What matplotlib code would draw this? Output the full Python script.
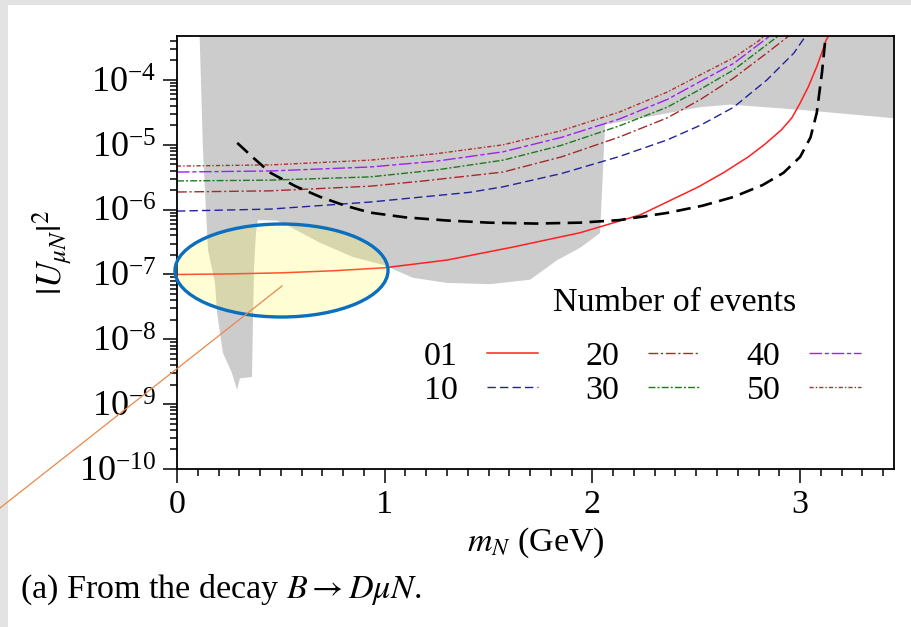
import numpy as np
import matplotlib.pyplot as plt
from matplotlib.patches import Ellipse, Rectangle
from matplotlib.lines import Line2D
from matplotlib.ticker import MultipleLocator, LogLocator

plt.rcParams['font.family'] = 'serif'
plt.rcParams['font.serif'] = ['Liberation Serif', 'DejaVu Serif']
plt.rcParams['mathtext.fontset'] = 'stix'
FS = 24.5

# sensitivity on |U_muN|^2 vs m_N (GeV) for a given number of signal events
m_01 = [0.0, 0.25, 0.5, 0.75, 1.0, 1.3, 1.62, 1.94, 2.23, 2.51, 2.63, 2.75, 2.83, 2.91,
        2.96, 3.0, 3.04, 3.08, 3.1, 3.125, 3.16]
u_01 = [1.0e-7, 1.02e-7, 1.06e-7, 1.14e-7, 1.27e-7, 1.67e-7, 2.66e-7, 4.4e-7, 8.3e-7,
        2.24e-6, 3.7e-6, 6.5e-6, 1.02e-5, 1.7e-5, 2.6e-5, 4.4e-5, 7.9e-5, 1.6e-4,
        2.4e-4, 4.1e-4, 6.5e-4]

m_10 = [0.0, 0.45, 0.93, 1.41, 1.57, 1.85, 2.13, 2.36, 2.52, 2.68, 2.84, 2.97, 3.04]
u_10 = [9.5e-7, 1.02e-6, 1.31e-6, 1.85e-6, 2.25e-6, 3.6e-6, 6.6e-6, 1.19e-5, 2.0e-5,
        3.8e-5, 1.0e-4, 2.6e-4, 5.5e-4]

m_20 = [0.0, 0.45, 0.93, 1.2, 1.57, 1.85, 2.13, 2.36, 2.52, 2.68, 2.84, 2.97]
u_20 = [1.87e-6, 1.95e-6, 2.3e-6, 2.8e-6, 3.8e-6, 6.5e-6, 1.32e-5, 2.6e-5, 5.0e-5,
        1.07e-4, 2.6e-4, 5.5e-4]

m_30 = [0.0, 0.45, 0.93, 1.25, 1.57, 1.85, 2.13, 2.36, 2.52, 2.68, 2.84, 2.92]
u_30 = [2.77e-6, 2.85e-6, 3.2e-6, 4.1e-6, 5.8e-6, 9.8e-6, 1.96e-5, 3.8e-5, 7.2e-5,
        1.43e-4, 3.5e-4, 5.5e-4]

m_40 = [0.0, 0.45, 0.93, 1.25, 1.57, 1.85, 2.13, 2.36, 2.52, 2.68, 2.84, 2.88]
u_40 = [3.8e-6, 3.95e-6, 4.55e-6, 5.6e-6, 7.8e-6, 1.3e-5, 2.5e-5, 5.0e-5, 9.5e-5,
        1.8e-4, 4.4e-4, 5.5e-4]

m_50 = [0.0, 0.45, 0.93, 1.25, 1.57, 1.85, 2.13, 2.36, 2.52, 2.68, 2.8, 2.85]
u_50 = [4.7e-6, 4.9e-6, 5.8e-6, 7.3e-6, 1.0e-5, 1.65e-5, 3.2e-5, 6.5e-5, 1.2e-4,
        2.2e-4, 4.0e-4, 5.5e-4]

# black dashed reference bound
m_bd = [0.29, 0.37, 0.45, 0.57, 0.69, 0.81, 0.93, 1.1, 1.3, 1.5, 1.73, 1.94, 2.13,
        2.36, 2.53, 2.68, 2.82, 2.92, 3.0, 3.05, 3.08, 3.105, 3.125]
u_bd = [1.07e-5, 6.2e-6, 3.7e-6, 2.3e-6, 1.57e-6, 1.15e-6, 9.0e-7, 7.6e-7, 6.8e-7,
        6.3e-7, 6.1e-7, 6.3e-7, 6.9e-7, 8.9e-7, 1.15e-6, 1.57e-6, 2.4e-6, 3.7e-6,
        6.5e-6, 1.3e-5, 3.1e-5, 1.28e-4, 5.5e-4]

# excluded region (grey)
excl_m = [0.106, 0.125, 0.149, 0.183, 0.193, 0.221, 0.265, 0.289, 0.303, 0.361, 0.366,
          0.371, 0.380, 0.390, 0.481, 0.530, 0.688, 0.847, 0.992, 1.136, 1.300, 1.507,
          1.700, 1.830, 1.940, 2.037, 2.061, 2.229, 2.518, 2.662, 2.999, 3.452, 3.452]
excl_u = [1e-3, 8.3e-6, 2.4e-7, 7.4e-8, 2.57e-8, 6.2e-9, 3.0e-9, 1.66e-9, 2.5e-9,
          2.63e-9, 2.19e-8, 1.32e-7, 4.37e-7, 6.9e-7, 6.76e-7, 5.75e-7, 3.09e-7,
          1.86e-7, 1.41e-7, 8.9e-8, 7.4e-8, 7.1e-8, 8.3e-8, 1.66e-7, 2.57e-7, 4.37e-7,
          2.04e-5, 2.57e-5, 3.8e-5, 4.17e-5, 3.47e-5, 2.57e-5, 1e-3]

labels = ['01', '10', '20', '30', '40', '50']

W, H = 912, 627
fig = plt.figure(figsize=(W / 100, H / 100), dpi=100)
ax = fig.add_axes([177 / W, 1 - 469 / H, (894 - 177) / W, (469 - 35.5) / H])

ax.fill(excl_m, excl_u, color='#cccccc', lw=0, zorder=0)

lines = []
lines += ax.plot(m_01, u_01, color='#ff2020', lw=1.1)
lines += ax.plot(m_10, u_10, color='#22229c', lw=1.0, dashes=(6, 3))
lines += ax.plot(m_20, u_20, color='#a52a2a', lw=1.0, dashes=(7, 2, 1.5, 2))
lines += ax.plot(m_30, u_30, color='#1f7a1f', lw=1.0, dashes=(5, 1.5, 1.5, 1.5))
lines += ax.plot(m_40, u_40, color='#a020f0', lw=1.0, dashes=(9, 2, 3, 2))
lines += ax.plot(m_50, u_50, color='#b03030', lw=1.0, dashes=(3, 1.5, 1, 1.5))
ax.plot(m_bd, u_bd, color='black', lw=1.9, dashes=(5.5, 2.8))

ax.set_yscale('log')
ax.set_xlim(0, 3.452)
ax.set_ylim(1e-10, 4.85e-4)

ax.xaxis.set_major_locator(MultipleLocator(1))
ax.xaxis.set_minor_locator(MultipleLocator(0.1))
ax.yaxis.set_major_locator(LogLocator(base=10, numticks=20))
ax.yaxis.set_minor_locator(LogLocator(base=10, subs=np.arange(2, 10), numticks=20))
ax.tick_params(which='both', direction='out', top=False, right=False, width=1.1)
ax.tick_params(which='major', length=10, pad=5)
ax.tick_params(which='minor', length=5)
ax.tick_params(axis='x', labelsize=FS)
ax.tick_params(axis='y', labelsize=26)
for s in ax.spines.values():
    s.set_linewidth(1.3)

ax.set_xlabel(r'$m_N$ (GeV)', fontsize=FS)
ax.xaxis.set_label_coords(0.5, (469 - 526) / 433.5)
ax.set_ylabel(r'$|U_{\mu N}|^2$', fontsize=FS + 1)
ax.yaxis.set_label_coords(-0.142, 0.5)

ax.legend(lines, labels, ncol=3, markerfirst=False,
          frameon=False, loc='lower right', bbox_to_anchor=(0.996, 0.075),
          handlelength=1.5, handletextpad=0.85, columnspacing=1.4,
          labelspacing=0.1, fontsize=FS)
ax.text(0.694, (469 - 303) / 433.5, 'Number of events', fontsize=FS,
        ha='center', va='center', transform=ax.transAxes)

# highlight around the low-mass end of the one-event curve
fig.add_artist(Ellipse((281.5 / W, 1 - 270.5 / H), 213 / W, 93 / H,
                       transform=fig.transFigure, facecolor=(1.0, 0.97, 0.3, 0.24),
                       edgecolor='#0a6fbf', lw=2.4, zorder=5))
fig.add_artist(Line2D([0, 282 / W], [1 - 508 / H, 1 - 286 / H],
                      transform=fig.transFigure, color='#e8894a', lw=0.9, zorder=6))

# page border
fig.add_artist(Rectangle((0, 0), 8 / W, 1, transform=fig.transFigure,
                         color='#e3e3e3', lw=0, zorder=1))
fig.add_artist(Rectangle((0, 1 - 5 / H), 1, 5 / H, transform=fig.transFigure,
                         color='#e3e3e3', lw=0, zorder=1))

fig.text(20 / W, 1 - 590 / H, r'(a) From the decay $B \rightarrow D\mu N$.',
         fontsize=FS, va='center', ha='left')

fig.savefig('out.png', dpi=100)
